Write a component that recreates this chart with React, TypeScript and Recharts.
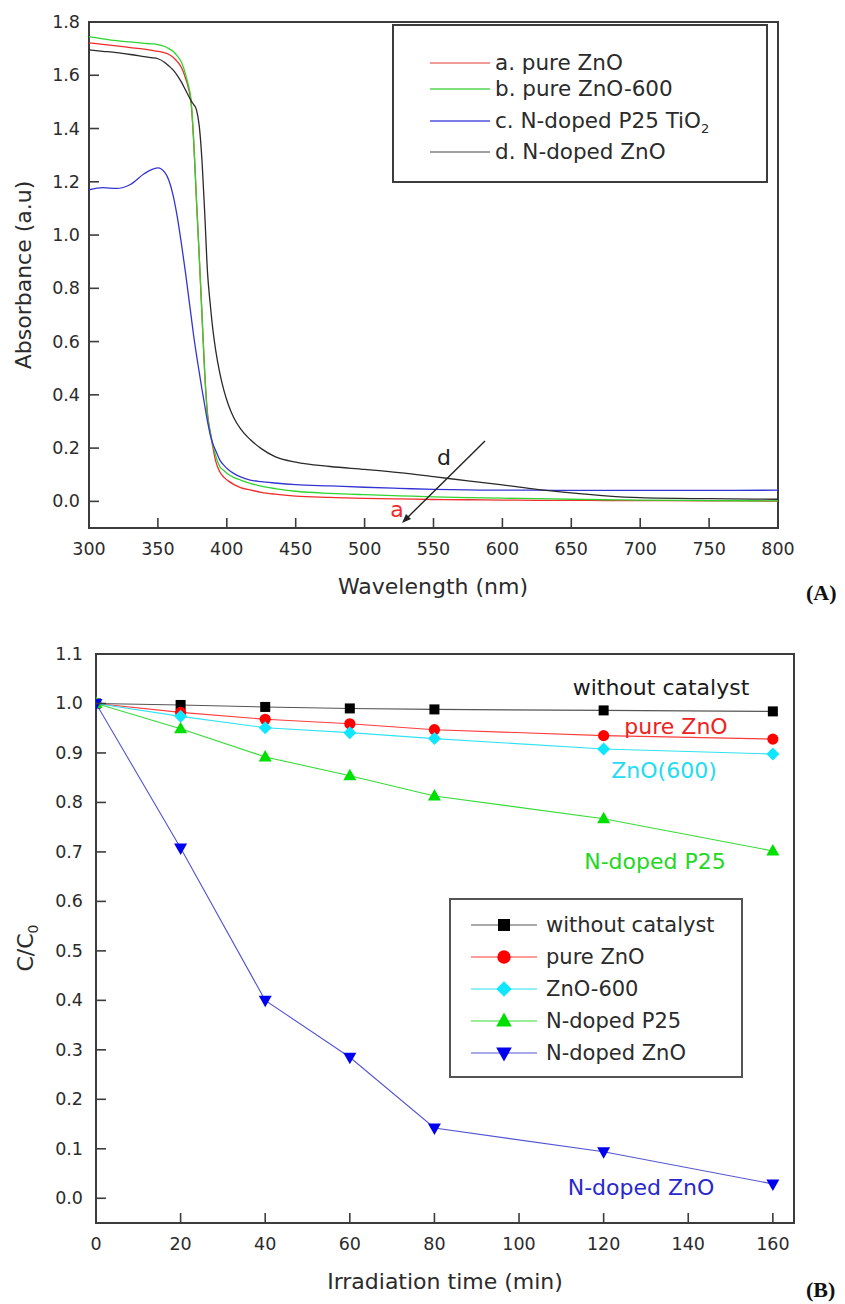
import React from "react";
import { LineChart, Line, XAxis, YAxis, ReferenceArea, Legend } from "recharts";

const FONT = "'DejaVu Sans', sans-serif";
const FRAME = "#3c3c3c";
const TEXT = "#2b2b2b";
const TICK_LEN = 10;

// ---- (A) UV-vis absorbance spectra ----
const WAVELENGTH = [
  300, 310, 320, 330, 340, 345, 350, 355, 358, 361, 364, 367, 370, 372, 374, 376, 378, 380, 382, 384,
  386, 388, 390, 392, 395, 398, 401, 405, 410, 417, 425, 435, 450, 475, 500, 525, 550, 575, 600, 625,
  650, 675, 700, 750, 800,
];
const ABS_PURE_ZNO = [
  1.722, 1.716, 1.71, 1.704, 1.698, 1.694, 1.69, 1.684, 1.678, 1.668, 1.652, 1.63, 1.59, 1.555, 1.5,
  1.35, 1.13, 0.92, 0.7, 0.48, 0.33, 0.26, 0.2, 0.15, 0.11, 0.09, 0.077, 0.064, 0.052, 0.043, 0.034,
  0.027, 0.02, 0.015, 0.011, 0.009, 0.007, 0.006, 0.005, 0.004, 0.004, 0.003, 0.003, 0.002, 0.001,
];
const ABS_ZNO_600 = [
  1.745, 1.737, 1.73, 1.725, 1.72, 1.718, 1.715, 1.708, 1.7, 1.69, 1.673, 1.65, 1.605, 1.565, 1.51,
  1.35, 1.13, 0.92, 0.7, 0.48, 0.32, 0.26, 0.21, 0.17, 0.13, 0.115, 0.102, 0.09, 0.08, 0.068, 0.057,
  0.048, 0.038, 0.03, 0.025, 0.021, 0.017, 0.014, 0.012, 0.01, 0.008, 0.006, 0.005, 0.003, 0.002,
];
const ABS_N_P25 = [
  1.17, 1.178, 1.175, 1.19, 1.23, 1.245, 1.252, 1.235, 1.205, 1.15, 1.07, 0.97, 0.86, 0.78, 0.7, 0.62,
  0.55, 0.485, 0.42, 0.36, 0.3, 0.25, 0.215, 0.19, 0.155, 0.135, 0.12, 0.105, 0.092, 0.08, 0.074,
  0.069, 0.063, 0.058, 0.053, 0.049, 0.045, 0.043, 0.042, 0.042, 0.041, 0.041, 0.041, 0.041, 0.042,
];
const ABS_N_ZNO = [
  1.695, 1.69, 1.685, 1.678, 1.67, 1.666, 1.662, 1.648, 1.635, 1.62, 1.6, 1.575, 1.545, 1.525, 1.505,
  1.49, 1.47, 1.41, 1.28, 1.08, 0.86, 0.74, 0.64, 0.565, 0.48, 0.415, 0.365, 0.315, 0.272, 0.232, 0.198,
  0.168, 0.147, 0.131, 0.12, 0.108, 0.093, 0.077, 0.062, 0.045, 0.032, 0.021, 0.014, 0.01, 0.008,
];
const WL_TICKS = [300, 350, 400, 450, 500, 550, 600, 650, 700, 750, 800];
const ABS_TICKS = [0, 0.2, 0.4, 0.6, 0.8, 1.0, 1.2, 1.4, 1.6, 1.8];

// ---- (B) photodegradation ----
const TIME = [0, 20, 40, 60, 80, 120, 160];
const C_NO_CATALYST = [1.0, 0.997, 0.993, 0.99, 0.988, 0.986, 0.984];
const C_PURE_ZNO = [1.0, 0.982, 0.968, 0.959, 0.947, 0.935, 0.928];
const C_ZNO_600 = [1.0, 0.974, 0.951, 0.941, 0.929, 0.908, 0.898];
const C_N_P25 = [1.0, 0.949, 0.892, 0.854, 0.813, 0.767, 0.702];
const C_N_ZNO = [1.0, 0.708, 0.4, 0.285, 0.142, 0.094, 0.029];
const TIME_TICKS = [0, 20, 40, 60, 80, 100, 120, 140, 160];
const C_TICKS = [0, 0.1, 0.2, 0.3, 0.4, 0.5, 0.6, 0.7, 0.8, 0.9, 1.0, 1.1];

const spectraRows = WAVELENGTH.map((wl, i) => ({
  wl,
  a: ABS_PURE_ZNO[i],
  b: ABS_ZNO_600[i],
  c: ABS_N_P25[i],
  d: ABS_N_ZNO[i],
}));

const kineticRows = TIME.map((t, i) => ({
  t,
  none: C_NO_CATALYST[i],
  pure: C_PURE_ZNO[i],
  z600: C_ZNO_600[i],
  p25: C_N_P25[i],
  nzno: C_N_ZNO[i],
}));

const SPECTRA = [
  { key: "a", label: <>a. pure ZnO</>, color: "#f02c2c", swatch: "#f29a9a" },
  { key: "b", label: <>b. pure ZnO-600</>, color: "#2fd42f", swatch: "#80e080" },
  { key: "c", label: <>c. N-doped P25 TiO<sub style={{ fontSize: 13, lineHeight: 0 }}>2</sub></>, color: "#3434d4", swatch: "#7c7ce6" },
  { key: "d", label: <>d. N-doped ZnO</>, color: "#2a2a2a", swatch: "#a0a0a0" },
];
const SPECTRA_ROW_Y = [37, 63, 95, 126];

type Shape = "square" | "circle" | "diamond" | "up" | "down";

const KINETICS: { key: string; label: string; line: string; fill: string; shape: Shape }[] = [
  { key: "none", label: "without catalyst", line: "#555555", fill: "#000000", shape: "square" },
  { key: "pure", label: "pure ZnO", line: "#ff3c3c", fill: "#ff0000", shape: "circle" },
  { key: "z600", label: "ZnO-600", line: "#30e2f2", fill: "#10e6ff", shape: "diamond" },
  { key: "p25", label: "N-doped P25", line: "#34dc34", fill: "#00e000", shape: "up" },
  { key: "nzno", label: "N-doped ZnO", line: "#5454d2", fill: "#0000f0", shape: "down" },
];

function Marker({ shape, cx, cy, fill, s = 1 }: { shape: Shape; cx: number; cy: number; fill: string; s?: number }) {
  if (shape === "square") return <rect x={cx - 5 * s} y={cy - 5 * s} width={10 * s} height={10 * s} fill={fill} />;
  if (shape === "circle") return <circle cx={cx} cy={cy} r={5.6 * s} fill={fill} />;
  if (shape === "diamond")
    return (
      <polygon
        points={`${cx},${cy - 6.5 * s} ${cx + 6.5 * s},${cy} ${cx},${cy + 6.5 * s} ${cx - 6.5 * s},${cy}`}
        fill={fill}
      />
    );
  if (shape === "up")
    return (
      <polygon
        points={`${cx},${cy - 7 * s} ${cx + 6.5 * s},${cy + 4.5 * s} ${cx - 6.5 * s},${cy + 4.5 * s}`}
        fill={fill}
      />
    );
  return (
    <polygon
      points={`${cx - 6.5 * s},${cy - 4.5 * s} ${cx + 6.5 * s},${cy - 4.5 * s} ${cx},${cy + 7 * s}`}
      fill={fill}
    />
  );
}

// ticks point inward, labels outside
const BottomTick = ({ x, y, payload }: any) => (
  <g>
    <line x1={x} y1={y} x2={x} y2={y - TICK_LEN} stroke={FRAME} strokeWidth={1.6} />
    <text x={x} y={y + 27} textAnchor="middle" fontFamily={FONT} fontSize={17.5} fill={TEXT}>
      {payload.value}
    </text>
  </g>
);

const LeftTick = ({ x, y, payload, gap }: any) => (
  <g>
    <line x1={x} y1={y} x2={x + TICK_LEN} y2={y} stroke={FRAME} strokeWidth={1.6} />
    <text x={x - gap} y={y + 6} textAnchor="end" fontFamily={FONT} fontSize={17.5} fill={TEXT}>
      {Number(payload.value).toFixed(1)}
    </text>
  </g>
);

const SpectraLegend = () => (
  <div
    style={{
      position: "relative",
      width: 376,
      height: 159,
      boxSizing: "border-box",
      border: `2px solid ${FRAME}`,
      background: "#fff",
      fontFamily: FONT,
      fontSize: 21.5,
      color: TEXT,
    }}
  >
    {SPECTRA.map((s, i) => (
      <div
        key={s.key}
        style={{ position: "absolute", left: 36, top: SPECTRA_ROW_Y[i] - 14, height: 28, display: "flex", alignItems: "center", whiteSpace: "nowrap" }}
      >
        <span style={{ display: "inline-block", width: 60, borderTop: `2px solid ${s.swatch}`, marginRight: 5 }} />
        <span style={{ lineHeight: "28px" }}>{s.label}</span>
      </div>
    ))}
  </div>
);

const KineticsLegend = () => (
  <div
    style={{
      position: "relative",
      width: 294,
      height: 180,
      boxSizing: "border-box",
      border: `2px solid #555`,
      background: "#fff",
      fontFamily: FONT,
      fontSize: 21,
      color: TEXT,
    }}
  >
    {KINETICS.map((k, i) => (
      <div
        key={k.key}
        style={{ position: "absolute", left: 20, top: 25 + i * 32 - 14, height: 28, display: "flex", alignItems: "center", whiteSpace: "nowrap" }}
      >
        <svg width={66} height={28} style={{ marginRight: 9 }}>
          <line x1={0} y1={14} x2={66} y2={14} stroke={k.line} strokeWidth={1.2} />
          <Marker shape={k.shape} cx={33} cy={14} fill={k.fill} s={1.2} />
        </svg>
        <span>{k.label}</span>
      </div>
    ))}
  </div>
);

export default function App() {
  return (
    <div style={{ position: "absolute", left: 0, top: 0, width: 845, height: 1304, background: "#fff", fontFamily: FONT }}>
      {/* (A) */}
      <div style={{ position: "absolute", left: 0, top: 0 }}>
        <LineChart width={845} height={620} data={spectraRows} margin={{ top: 22, right: 67, bottom: 0, left: 0 }}>
          <XAxis
            dataKey="wl"
            type="number"
            domain={[300, 800]}
            ticks={WL_TICKS}
            interval={0}
            allowDataOverflow
            height={92}
            axisLine={false}
            tickLine={false}
            tickSize={0}
            tickMargin={0}
            tick={BottomTick}
          />
          <YAxis
            type="number"
            domain={[-0.1, 1.8]}
            ticks={ABS_TICKS}
            interval={0}
            allowDataOverflow
            width={89}
            axisLine={false}
            tickLine={false}
            tickSize={0}
            tickMargin={0}
            tick={(p: any) => <LeftTick {...p} gap={9} />}
          />
          <ReferenceArea x1={300} x2={800} y1={-0.1} y2={1.8} fill="none" stroke={FRAME} strokeWidth={2} ifOverflow="visible" />
          {SPECTRA.map((s) => (
            <Line
              key={s.key}
              dataKey={s.key}
              type="monotone"
              stroke={s.color}
              strokeWidth={1.3}
              dot={false}
              isAnimationActive={false}
            />
          ))}
          <Legend
            layout="horizontal"
            verticalAlign="middle"
            align="center"
            wrapperStyle={{ left: 392, top: 24, width: 376, height: 159 }}
            content={() => <SpectraLegend />}
          />
        </LineChart>
      </div>

      {/* (B) */}
      <div style={{ position: "absolute", left: 0, top: 620 }}>
        <LineChart width={845} height={684} data={kineticRows} margin={{ top: 34, right: 51, bottom: 0, left: 0 }}>
          <XAxis
            dataKey="t"
            type="number"
            domain={[0, 165]}
            ticks={TIME_TICKS}
            interval={0}
            allowDataOverflow
            height={81}
            axisLine={false}
            tickLine={false}
            tickSize={0}
            tickMargin={0}
            tick={BottomTick}
          />
          <YAxis
            type="number"
            domain={[-0.05, 1.1]}
            ticks={C_TICKS}
            interval={0}
            allowDataOverflow
            width={96}
            axisLine={false}
            tickLine={false}
            tickSize={0}
            tickMargin={0}
            tick={(p: any) => <LeftTick {...p} gap={13} />}
          />
          <ReferenceArea x1={0} x2={165} y1={-0.05} y2={1.1} fill="none" stroke={FRAME} strokeWidth={2} ifOverflow="visible" />
          {KINETICS.map((k) => (
            <Line
              key={k.key}
              dataKey={k.key}
              type="linear"
              stroke={k.line}
              strokeWidth={1.1}
              isAnimationActive={false}
              dot={(p: any) => <Marker key={`${k.key}-${p.index}`} shape={k.shape} cx={p.cx} cy={p.cy} fill={k.fill} />}
            />
          ))}
          <Legend
            layout="horizontal"
            verticalAlign="middle"
            align="center"
            wrapperStyle={{ left: 449, top: 278, width: 294, height: 180 }}
            content={() => <KineticsLegend />}
          />
        </LineChart>
      </div>

      {/* titles and annotations */}
      <svg width={845} height={1304} style={{ position: "absolute", left: 0, top: 0, pointerEvents: "none" }} fontFamily={FONT}>
        <text x={433} y={594} textAnchor="middle" fontSize={22} fill={TEXT}>Wavelength (nm)</text>
        <text x={31} y={275} textAnchor="middle" fontSize={22} fill={TEXT} transform="rotate(-90 31 275)">Absorbance (a.u)</text>
        <text x={444} y={465} textAnchor="middle" fontSize={22} fill="#222">d</text>
        <text x={397} y={517} textAnchor="middle" fontSize={22} fill="#f02c2c">a</text>
        <line x1={485} y1={441} x2={405} y2={520} stroke="#222" strokeWidth={1.4} />
        <polygon points="402,523 411,519 406,514" fill="#222" />

        <text x={445} y={1289} textAnchor="middle" fontSize={22} fill={TEXT}>Irradiation time (min)</text>
        <text x={33} y={948} textAnchor="middle" fontSize={22} fill={TEXT} transform="rotate(-90 33 948)">
          C/C<tspan fontSize={14} dy={5}>0</tspan>
        </text>
        <text x={661} y={695} textAnchor="middle" fontSize={22} fill="#1a1a1a">without catalyst</text>
        <text x={676} y={734} textAnchor="middle" fontSize={22} fill="#ee2222">pure ZnO</text>
        <text x={664} y={778} textAnchor="middle" fontSize={22} fill="#22dcf0">ZnO(600)</text>
        <text x={655} y={869} textAnchor="middle" fontSize={22} fill="#22d822">N-doped P25</text>
        <text x={641} y={1195} textAnchor="middle" fontSize={22} fill="#2828cc">N-doped ZnO</text>
      </svg>

      <div style={{ position: "absolute", left: 806, top: 580, fontFamily: "'Liberation Serif', serif", fontWeight: "bold", fontSize: 22, lineHeight: "26px", color: "#111" }}>
        (A)
      </div>
      <div style={{ position: "absolute", left: 806, top: 1277, fontFamily: "'Liberation Serif', serif", fontWeight: "bold", fontSize: 22, lineHeight: "26px", color: "#111" }}>
        (B)
      </div>
    </div>
  );
}
